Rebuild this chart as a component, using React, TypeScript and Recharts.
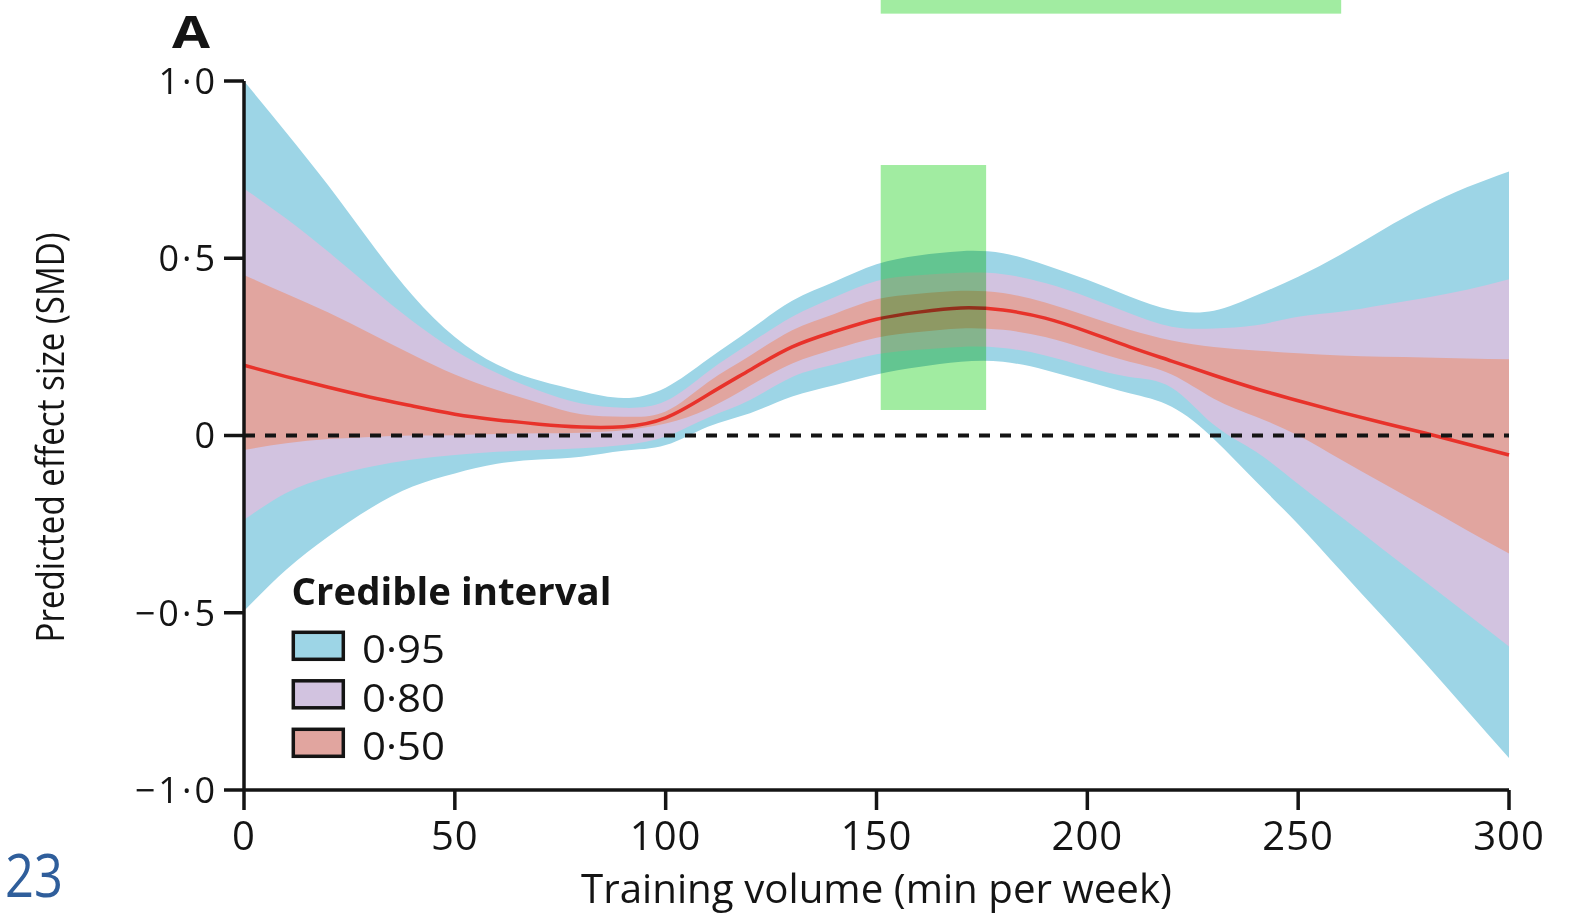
import React from "react";
import {
  ComposedChart,
  Area,
  Line,
  XAxis,
  YAxis,
  ReferenceLine,
  ReferenceArea,
  Label,
} from "recharts";

// Training volume (min per week)
const volume = [0, 10, 20, 30, 40, 50, 60, 70, 80, 90, 100, 110, 120, 130, 140, 150, 160, 170, 180, 190, 200, 210, 220, 230, 240, 250, 260, 270, 280, 290, 300];

// Predicted effect size (SMD), posterior median
const median = [0.198, 0.166, 0.136, 0.108, 0.083, 0.06, 0.044, 0.032, 0.024, 0.025, 0.05, 0.115, 0.185, 0.25, 0.293, 0.328, 0.348, 0.36, 0.354, 0.331, 0.293, 0.25, 0.21, 0.17, 0.132, 0.098, 0.066, 0.036, 0.007, -0.024, -0.055];

// 0.50 credible interval
const lo50 = [-0.041, -0.022, -0.01, -0.004, 0.0, 0.001, 0.004, 0.006, 0.008, 0.015, 0.034, 0.075, 0.14, 0.203, 0.243, 0.276, 0.292, 0.302, 0.298, 0.278, 0.243, 0.208, 0.172, 0.104, 0.053, 0.0, -0.067, -0.134, -0.2, -0.267, -0.333];
const hi50 = [0.453, 0.4, 0.347, 0.288, 0.228, 0.172, 0.128, 0.092, 0.06, 0.053, 0.068, 0.15, 0.225, 0.297, 0.343, 0.384, 0.4, 0.408, 0.402, 0.375, 0.337, 0.298, 0.268, 0.25, 0.24, 0.232, 0.226, 0.222, 0.22, 0.217, 0.215];

// 0.80 credible interval
const lo80 = [-0.238, -0.162, -0.117, -0.088, -0.068, -0.055, -0.046, -0.041, -0.036, -0.027, -0.003, 0.05, 0.1, 0.165, 0.2, 0.229, 0.242, 0.25, 0.247, 0.226, 0.193, 0.165, 0.135, 0.03, -0.046, -0.137, -0.228, -0.32, -0.411, -0.503, -0.595];
const hi80 = [0.697, 0.612, 0.518, 0.418, 0.322, 0.24, 0.176, 0.126, 0.09, 0.078, 0.097, 0.18, 0.26, 0.335, 0.39, 0.436, 0.452, 0.459, 0.455, 0.43, 0.391, 0.345, 0.307, 0.302, 0.311, 0.335, 0.349, 0.368, 0.388, 0.411, 0.441];

// 0.95 credible interval
const lo95 = [-0.495, -0.379, -0.285, -0.205, -0.144, -0.107, -0.08, -0.068, -0.06, -0.043, -0.027, 0.025, 0.063, 0.11, 0.142, 0.172, 0.193, 0.208, 0.208, 0.185, 0.152, 0.119, 0.081, -0.01, -0.13, -0.25, -0.38, -0.51, -0.64, -0.775, -0.91];
const hi95 = [1.0, 0.855, 0.705, 0.545, 0.395, 0.278, 0.2, 0.155, 0.125, 0.106, 0.135, 0.215, 0.298, 0.38, 0.434, 0.483, 0.508, 0.52, 0.514, 0.481, 0.439, 0.392, 0.354, 0.352, 0.395, 0.448, 0.51, 0.58, 0.645, 0.7, 0.745];

const xTicks = [0, 50, 100, 150, 200, 250, 300];
const yTicks = [-1, -0.5, 0, 0.5, 1];

// Highlighted range (green boxes)
const highlightX = [151, 176];
const highlightY = [0.072, 0.763];
const bannerX = [151, 260.2];
const bannerY = [1.19, 1.25];

const legendTitle = "Credible interval";
const legendLabels = ["0\u00b795", "0\u00b780", "0\u00b750"];
const bandColors = ["#9dd5e6", "#d2c3e0", "#e1a59f"];

const xTitle = "Training volume (min per week)";
const yTitle = "Predicted effect size (SMD)";
const panelLabel = "A";
const pageNumber = "23";

const FONT = '"Open Sans", "Noto Sans", sans-serif';
const INK = "#141414";
const CURVE = "natural";

const fmtY = (v: number) =>
  v === 0 ? "0" : (v < 0 ? "\u2212" : "") + Math.abs(v).toFixed(1).replace(".", "\u00b7");

const greenShape = (p: any) => (
  <rect
    x={p.x}
    y={p.y}
    width={p.width}
    height={p.height}
    fill="#a1eca1"
    style={{ mixBlendMode: "multiply" }}
  />
);

export default function App() {
  const data = volume.map((x, i) => ({
    x,
    ci95: [lo95[i], hi95[i]],
    ci80: [lo80[i], hi80[i]],
    ci50: [lo50[i], hi50[i]],
    median: median[i],
  }));

  return (
    <div
      style={{
        position: "absolute",
        left: 0,
        top: 0,
        width: 1587,
        height: 915,
        background: "#fff",
        overflow: "hidden",
      }}
    >
      <ComposedChart
        width={1587}
        height={915}
        data={data}
        margin={{ top: 81, right: 78, bottom: 0, left: 0 }}
      >
        <XAxis
          dataKey="x"
          type="number"
          domain={[0, 300]}
          ticks={xTicks}
          interval={0}
          height={125}
          tickSize={20}
          tickMargin={12}
          axisLine={{ stroke: INK, strokeWidth: 3.5 }}
          tickLine={{ stroke: INK, strokeWidth: 3.5 }}
          tick={{ fontSize: 40, fill: INK, fontFamily: FONT, letterSpacing: 1 }}
        >
          <Label
            content={(p: any) => {
              const vb = p.viewBox;
              return (
                <text
                  x={vb.x + vb.width / 2}
                  y={903}
                  textAnchor="middle"
                  fontSize={41}
                  fontFamily={FONT}
                  fill={INK}
                  textLength={591}
                  lengthAdjust="spacingAndGlyphs"
                >
                  {xTitle}
                </text>
              );
            }}
          />
        </XAxis>
        <YAxis
          type="number"
          domain={[-1, 1]}
          ticks={yTicks}
          interval={0}
          width={244}
          tickSize={20}
          tickMargin={6}
          tickFormatter={fmtY}
          axisLine={{ stroke: INK, strokeWidth: 3.5 }}
          tickLine={{ stroke: INK, strokeWidth: 3.5 }}
          tick={{ fontSize: 36, fill: INK, fontFamily: FONT, letterSpacing: 3 }}
        >
          <Label
            content={(p: any) => {
              const vb = p.viewBox;
              const cy = vb.y + vb.height / 2 + 2;
              return (
                <text
                  x={64}
                  y={cy}
                  transform={`rotate(-90, 64, ${cy})`}
                  textAnchor="middle"
                  fontSize={39}
                  fontFamily={FONT}
                  fill={INK}
                  textLength={410}
                  lengthAdjust="spacingAndGlyphs"
                >
                  {yTitle}
                </text>
              );
            }}
          />
        </YAxis>

        <Area
          dataKey="ci95"
          type={CURVE}
          fill={bandColors[0]}
          fillOpacity={1}
          stroke="none"
          dot={false}
          activeDot={false}
          isAnimationActive={false}
        />
        <Area
          dataKey="ci80"
          type={CURVE}
          fill={bandColors[1]}
          fillOpacity={1}
          stroke="none"
          dot={false}
          activeDot={false}
          isAnimationActive={false}
        />
        <Area
          dataKey="ci50"
          type={CURVE}
          fill={bandColors[2]}
          fillOpacity={1}
          stroke="none"
          dot={false}
          activeDot={false}
          isAnimationActive={false}
        />
        <Line
          dataKey="median"
          type={CURVE}
          stroke="#e8322a"
          strokeWidth={3.5}
          dot={false}
          activeDot={false}
          isAnimationActive={false}
        />
        <ReferenceLine
          y={0}
          stroke={INK}
          strokeWidth={4}
          strokeDasharray="11 10"
          zIndex={1400}
        />
        <ReferenceArea
          x1={highlightX[0]}
          x2={highlightX[1]}
          y1={highlightY[0]}
          y2={highlightY[1]}
          shape={greenShape}
          zIndex={1500}
        />
        <ReferenceArea
          x1={bannerX[0]}
          x2={bannerX[1]}
          y1={bannerY[0]}
          y2={bannerY[1]}
          ifOverflow="visible"
          shape={greenShape}
          zIndex={1500}
        />
      </ComposedChart>

      <svg
        width={1587}
        height={915}
        style={{ position: "absolute", left: 0, top: 0, pointerEvents: "none" }}
      >
        <text
          x={172}
          y={48}
          fontSize={44}
          fontWeight={700}
          fontFamily={FONT}
          fill={INK}
          textLength={38}
          lengthAdjust="spacingAndGlyphs"
        >
          {panelLabel}
        </text>
        <text
          x={5}
          y={897}
          fontSize={60}
          fontFamily={FONT}
          fill="#2f5e9b"
          textLength={58}
          lengthAdjust="spacingAndGlyphs"
        >
          {pageNumber}
        </text>
        <text
          x={291.5}
          y={605}
          fontSize={38}
          fontWeight={700}
          fontFamily={FONT}
          fill={INK}
          textLength={320}
          lengthAdjust="spacingAndGlyphs"
        >
          {legendTitle}
        </text>
        {legendLabels.map((lab, i) => (
          <g key={lab}>
            <rect
              x={293.3}
              y={632.3 + i * 48.5}
              width={50}
              height={27}
              fill={bandColors[i]}
              stroke={INK}
              strokeWidth={3.5}
            />
            <text
              x={362}
              y={663 + i * 48.5}
              fontSize={39}
              fontFamily={FONT}
              fill={INK}
              textLength={83}
              lengthAdjust="spacingAndGlyphs"
            >
              {lab}
            </text>
          </g>
        ))}
      </svg>
    </div>
  );
}
